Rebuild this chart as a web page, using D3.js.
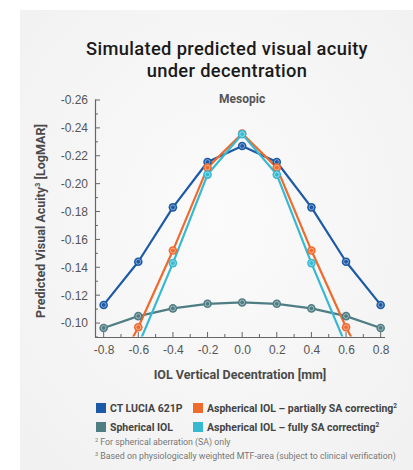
<!DOCTYPE html>
<html>
<head>
<meta charset="utf-8">
<script src="https://cdn.jsdelivr.net/npm/d3@7"></script>
<style>
  html, body { margin: 0; padding: 0; background: #ffffff; }
  svg { display: block; font-family: Roboto, "Open Sans", sans-serif; }
</style>
</head>
<body>
<svg id="chart" width="413" height="470"></svg>
<script>
// ---- data ----
const decentration = [-0.8, -0.6, -0.4, -0.2, 0.0, 0.2, 0.4, 0.6, 0.8];
const ctLucia      = [-0.113, -0.144, -0.183, -0.2155, -0.227, -0.2155, -0.183, -0.144, -0.113];
const spherical    = [-0.0965, -0.105, -0.1105, -0.1138, -0.1148, -0.1138, -0.1105, -0.105, -0.0965];
const partialSA    = [-0.05, -0.097, -0.152, -0.2115, -0.236, -0.2115, -0.152, -0.097, -0.05];
const fullSA       = [-0.03, -0.084, -0.143, -0.2065, -0.2355, -0.2065, -0.143, -0.084, -0.03];
const xTicks = [-0.8, -0.6, -0.4, -0.2, 0.0, 0.2, 0.4, 0.6, 0.8];
const yTicks = [-0.26, -0.24, -0.22, -0.20, -0.18, -0.16, -0.14, -0.12, -0.10];
const seriesNames  = ["CT LUCIA 621P", "Spherical IOL", "Aspherical IOL \u2013 partially SA correcting", "Aspherical IOL \u2013 fully SA correcting"];
const seriesColors = ["#1c5aa6", "#4f7d84", "#ef6a2d", "#36b9d1"];
const seriesValues = [ctLucia, spherical, partialSA, fullSA];

const svg = d3.select("#chart");

// background panel with soft gradient
const defs = svg.append("defs");
const grad = defs.append("radialGradient").attr("id", "bg").attr("cx", "50%").attr("cy", "45%").attr("r", "70%");
grad.append("stop").attr("offset", "0%").attr("stop-color", "#fbfbfb");
grad.append("stop").attr("offset", "100%").attr("stop-color", "#f1f1f1");
svg.append("rect").attr("x", 20).attr("y", 10).attr("width", 393).attr("height", 460).attr("fill", "url(#bg)");

// title
[["Simulated predicted visual acuity", 55], ["under decentration", 76.5]].forEach(([t, ty]) => {
  svg.append("text").attr("x", 227).attr("y", ty).attr("text-anchor", "middle").attr("fill", "#1a1a1a")
    .attr("font-size", 18.3).attr("font-weight", 500).attr("font-family", "Roboto, sans-serif")
    .attr("letter-spacing", 0.35).text(t);
});

// scales
const x = d3.scaleLinear().domain([-0.85, 0.825]).range([95, 385]);
const y = d3.scaleLinear().domain([-0.09, -0.26]).range([337, 100]);

const axisColor = "#666";
const labelColor = "#555";
const hyph = f => d => f(d).replace("\u2212", "-");

// y axis
const yAxis = svg.append("g").attr("transform", `translate(${x.range()[0]},0)`)
  .call(d3.axisLeft(y).tickValues(yTicks).tickSize(0).tickPadding(7).tickFormat(hyph(d3.format(".2f"))));
yAxis.select(".domain").remove();
yAxis.selectAll("text").attr("fill", labelColor).attr("font-size", 12);
const yMinor = d3.range(-0.26, -0.089, 0.01);
svg.append("g").selectAll("line").data(yMinor).join("line")
  .attr("x1", 95).attr("x2", (d, i) => i % 2 === 0 ? 100 : 98)
  .attr("y1", d => y(d)).attr("y2", d => y(d))
  .attr("stroke", axisColor).attr("stroke-width", 1);
svg.append("line").attr("x1", 95.5).attr("x2", 95.5).attr("y1", 99.5).attr("y2", 337)
  .attr("stroke", axisColor).attr("stroke-width", 1.2);

// x axis
const xAxis = svg.append("g").attr("transform", `translate(0,${y.range()[0]})`)
  .call(d3.axisBottom(x).tickValues(xTicks).tickSize(0).tickPadding(8).tickFormat(hyph(d3.format(".1f"))));
xAxis.select(".domain").remove();
xAxis.selectAll("text").attr("fill", labelColor).attr("font-size", 12);
const xMinor = d3.range(-0.8, 0.81, 0.1);
svg.append("g").selectAll("line").data(xMinor).join("line")
  .attr("x1", d => x(d)).attr("x2", d => x(d))
  .attr("y1", 337).attr("y2", (d, i) => i % 2 === 0 ? 332 : 334)
  .attr("stroke", axisColor).attr("stroke-width", 1);
svg.append("line").attr("x1", 95).attr("x2", 385).attr("y1", 337.5).attr("y2", 337.5)
  .attr("stroke", axisColor).attr("stroke-width", 1.2);

// axis titles
svg.append("text").attr("x", 240).attr("y", 379).attr("text-anchor", "middle")
  .attr("font-weight", "bold").attr("font-size", 12.5).attr("fill", "#4a4a4a")
  .text("IOL Vertical Decentration [mm]");
const yt = svg.append("text").attr("transform", "translate(45,221) rotate(-90)").attr("text-anchor", "middle")
  .attr("font-weight", "bold").attr("font-size", 12.5).attr("fill", "#4a4a4a");
yt.append("tspan").text("Predicted Visual Acuity");
yt.append("tspan").attr("font-size", 7.5).attr("dy", -5).text("3");
yt.append("tspan").attr("dy", 5).text(" [LogMAR]");

svg.append("text").attr("x", x(0)).attr("y", 103).attr("text-anchor", "middle")
  .attr("font-weight", "bold").attr("font-size", 12).attr("fill", "#555").text("Mesopic");

// clip
defs.append("clipPath").attr("id", "plotclip").append("rect")
  .attr("x", 96).attr("y", 90).attr("width", 300).attr("height", 246.5);

const line = d3.line().x((d, i) => x(decentration[i])).y(d => y(d));
const plot = svg.append("g").attr("clip-path", "url(#plotclip)");
// draw order: spherical, CT lucia, orange, cyan on top
const order = [1, 0, 2, 3];
order.forEach(k => {
  plot.append("path").datum(seriesValues[k]).attr("d", line)
    .attr("fill", "none").attr("stroke", seriesColors[k]).attr("stroke-width", 2.2)
    .attr("stroke-linejoin", "round");
});
order.forEach(k => {
  const pts = seriesValues[k].map((v, i) => ({ xv: decentration[i], yv: v }))
    .filter(p => p.yv <= -0.09);
  const g = svg.append("g");
  g.selectAll("circle.o").data(pts).join("circle").attr("class", "o")
    .attr("cx", p => x(p.xv)).attr("cy", p => y(p.yv)).attr("r", 4.3)
    .attr("fill", seriesColors[k]);
  g.selectAll("circle.i").data(pts).join("circle").attr("class", "i")
    .attr("cx", p => x(p.xv)).attr("cy", p => y(p.yv)).attr("r", 2.4)
    .attr("fill", "none").attr("stroke", "#ffffff").attr("stroke-opacity", 0.45).attr("stroke-width", 1);
});

// legend
const legendPos = [[96, 408], [96, 427], [193, 408], [193, 427]];
seriesNames.forEach((name, k) => {
  const [lx, ly] = legendPos[k];
  svg.append("rect").attr("x", lx).attr("y", ly - 5).attr("width", 10).attr("height", 10).attr("fill", seriesColors[k]);
  const t = svg.append("text").attr("x", lx + 14).attr("y", ly + 3.5)
    .attr("font-weight", "bold").attr("font-size", 10.5).attr("fill", "#444");
  t.append("tspan").text(name);
  if (k >= 2) t.append("tspan").attr("font-size", 6.5).attr("dy", -4).text("2");
});

// footnotes
const foot = [["2", "For spherical aberration (SA) only", 445], ["3", "Based on physiologically weighted MTF-area (subject to clinical verification)", 459]];
foot.forEach(([sup, txt, fy]) => {
  const t = svg.append("text").attr("x", 95).attr("y", fy).attr("font-size", 8.8).attr("fill", "#777");
  t.append("tspan").attr("font-size", 5.5).attr("dy", -3).text(sup);
  t.append("tspan").attr("dy", 3).text(" " + txt);
});
</script>
</body>
</html>
